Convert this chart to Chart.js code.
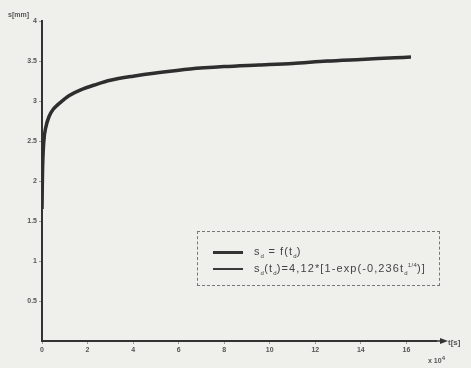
<!DOCTYPE html>
<html>
<head>
<meta charset="utf-8">
<script src="https://cdn.jsdelivr.net/npm/chart.js@4"></script>
<style>
  body { margin:0; background:#efefec; }
  #wrap { position:relative; width:471px; height:368px; font-family:"Liberation Sans", Arial, sans-serif; color:#444; }
  canvas { position:absolute; left:0; top:0; }
  .lbl { position:absolute; font-size:7px; font-weight:bold; color:#555; white-space:nowrap; }
  #legend { position:absolute; left:197px; top:231px; width:243px; height:55px; border:1px dashed #777; box-sizing:border-box; }
  .row { position:absolute; left:15px; font-size:11px; line-height:12px; letter-spacing:1.1px; color:#444; white-space:nowrap; }
  .row span.ln { display:inline-block; width:30px; vertical-align:middle; margin-right:11px; background:#333; }
  sub, sup { font-size:6px; line-height:0; letter-spacing:0.3px; }
</style>
</head>
<body>
<div id="wrap">
  <canvas id="c" width="471" height="368"></canvas>
  <div class="lbl" style="left:8px;top:11px;">s[mm]</div>
  <div class="lbl" style="left:448px;top:338px;font-size:8px;">t[s]</div>
  <div class="lbl" style="left:428px;top:357px;">x 10<sup>4</sup></div>
  <div id="legend">
    <div class="row" style="top:13px;"><span class="ln" style="height:3px;"></span>s<sub>d</sub> = f(t<sub>d</sub>)</div>
    <div class="row" style="top:30px;"><span class="ln" style="height:2px;background:#3a3a3a;"></span>s<sub>d</sub>(t<sub>d</sub>)=4,12*[1-exp(-0,236t<sub>d</sub><sup>1/4</sup>)]</div>
  </div>
</div>
<script>
// time in 10^4 s
var tMeas = [0, 0.03, 0.08, 0.15, 0.3, 0.5, 0.8, 1.2, 1.7, 2.3, 3, 4, 5, 6.5, 8, 9.5, 11, 12.5, 14, 15.5, 16.2];
var sMeas = [1.65, 2.2, 2.5, 2.65, 2.8, 2.9, 2.98, 3.07, 3.14, 3.2, 3.26, 3.31, 3.35, 3.4, 3.43, 3.45, 3.47, 3.5, 3.52, 3.54, 3.55];
var tFit = [0, 0.05, 0.15, 0.3, 0.6, 1, 1.7, 2.5, 3.5, 5, 7, 9, 11, 13, 15, 16.2];
var sFit = [1.7, 2.3, 2.62, 2.78, 2.93, 3.03, 3.14, 3.22, 3.29, 3.35, 3.41, 3.44, 3.47, 3.5, 3.53, 3.55];
var xTicks = [0, 2, 4, 6, 8, 10, 12, 14, 16];
var yTicks = [0.5, 1, 1.5, 2, 2.5, 3, 3.5, 4];

function pts(xs, ys) {
    return xs.map(function(x, i){ return {x: x, y: ys[i]}; });
}

var arrow = {
    id: 'arrow',
    afterDraw: function(chart) {
        var ctx = chart.ctx, a = chart.chartArea;
        ctx.save();
        ctx.strokeStyle = '#333';
        ctx.fillStyle = '#333';
        ctx.lineWidth = 1.5;
        ctx.beginPath();
        ctx.moveTo(a.right, a.bottom);
        ctx.lineTo(a.right + 8, a.bottom);
        ctx.stroke();
        ctx.beginPath();
        ctx.moveTo(a.right + 12, a.bottom);
        ctx.lineTo(a.right + 4, a.bottom - 3);
        ctx.lineTo(a.right + 4, a.bottom + 3);
        ctx.closePath();
        ctx.fill();
        ctx.restore();
    }
};

var tickFont = {family: 'Liberation Sans', size: 7, weight: 'bold'};
var plain = function(v){ return String(v); };

new Chart(document.getElementById('c').getContext('2d'), {
    type: 'scatter',
    data: {
        datasets: [
            {
                label: 'sd = f(td)',
                data: pts(tMeas, sMeas),
                showLine: true,
                borderColor: '#2e2e2e',
                borderWidth: 3.5,
                pointRadius: 0,
                tension: 0.3
            },
            {
                label: 'fit',
                data: pts(tFit, sFit),
                showLine: true,
                borderColor: '#444',
                borderWidth: 1.5,
                pointRadius: 0,
                tension: 0.3
            }
        ]
    },
    options: {
        responsive: false,
        animation: false,
        layout: {padding: {left: 0, top: 21, right: 35, bottom: 0}},
        plugins: {legend: {display: false}, tooltip: {enabled: false}},
        scales: {
            x: {
                type: 'linear',
                min: 0,
                max: 17.3,
                afterBuildTicks: function(s){ s.ticks = xTicks.map(function(v){ return {value: v}; }); },
                afterFit: function(s){ s.height = 27; },
                grid: {display: true, drawOnChartArea: false, tickLength: 3, color: '#999'},
                border: {color: '#333', width: 2},
                ticks: {font: tickFont, color: '#555', padding: 2, callback: plain}
            },
            y: {
                min: 0,
                max: 4,
                afterBuildTicks: function(s){ s.ticks = yTicks.map(function(v){ return {value: v}; }); },
                afterFit: function(s){ s.width = 42; },
                grid: {display: true, drawOnChartArea: false, tickLength: 3, color: '#999'},
                border: {color: '#333', width: 2},
                ticks: {font: tickFont, color: '#555', padding: 2, callback: plain}
            }
        }
    },
    plugins: [arrow]
});
</script>
</body>
</html>
